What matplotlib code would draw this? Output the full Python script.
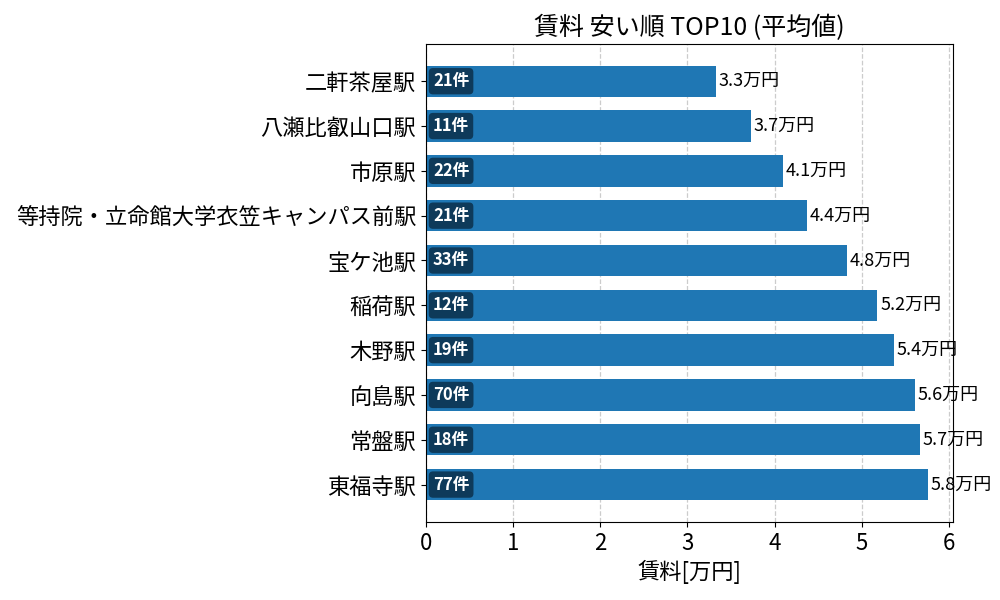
import matplotlib
matplotlib.use('Agg')
import matplotlib.pyplot as plt

plt.rcParams['font.family'] = ['Noto Sans CJK JP', 'DejaVu Sans']

stations = ['二軒茶屋駅', '八瀬比叡山口駅', '市原駅', '等持院・立命館大学衣笠キャンパス前駅', '宝ケ池駅',
            '稲荷駅', '木野駅', '向島駅', '常盤駅', '東福寺駅']
rent = [3.33, 3.73, 4.10, 4.37, 4.83, 5.18, 5.37, 5.61, 5.67, 5.76]
counts = [21, 11, 22, 21, 33, 12, 19, 70, 18, 77]

fig = plt.figure(figsize=(10, 6), dpi=100)
ax = fig.add_axes([0.426, 0.13, 0.527, 0.797])

y = list(range(len(stations)))
bars = ax.barh(y, rent, height=0.7, color='#1f77b4', zorder=2)
ax.invert_yaxis()
ax.set_yticks(y)
ax.set_yticklabels(stations, fontsize=16)
ax.set_xlim(0, max(rent) * 1.05)
ax.tick_params(axis='x', labelsize=16)
ax.grid(axis='x', linestyle='--', color='#cccccc', linewidth=0.9, zorder=0)
ax.set_axisbelow(True)
ax.set_xlabel('賃料[万円]', fontsize=16)
ax.set_title('賃料 安い順 TOP10 (平均値)', fontsize=18)

for i, (v, c) in enumerate(zip(rent, counts)):
    ax.annotate(f'{v:.1f}万円', xy=(v, i), xytext=(2, 0), textcoords='offset points',
                va='center', ha='left', fontsize=13)
    ax.annotate(f'{c}件', xy=(0, i), xytext=(5, 0), textcoords='offset points',
                va='center', ha='left', fontsize=12, color='white', fontweight='bold',
                bbox=dict(boxstyle='round,pad=0.25', fc='#0e3a5a', ec='none'), zorder=3)

fig.savefig('out.png')
